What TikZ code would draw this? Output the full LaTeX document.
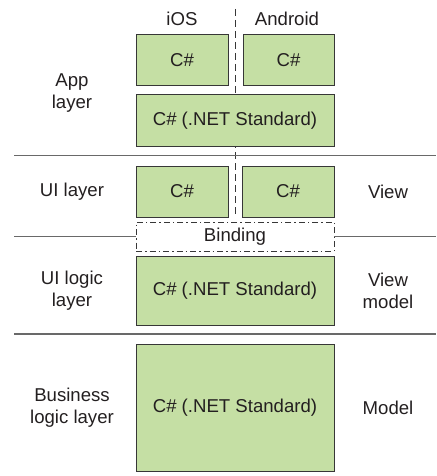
\documentclass[tikz,border=0pt]{standalone}
\usepackage{fontspec}
\setmainfont{Liberation Sans}
\definecolor{boxfill}{RGB}{197,223,164}
\definecolor{boxline}{RGB}{55,55,55}
\definecolor{txt}{RGB}{35,31,32}
\definecolor{sep}{RGB}{105,105,105}
\begin{document}
\begin{tikzpicture}[x=1pt,y=-1pt,
  every node/.style={font=\fontsize{18.6}{22}\selectfont, text=txt, inner sep=0pt, align=center},
  cbox/.style={draw=boxline, fill=boxfill, line width=1pt, minimum height=51pt},
  narrow/.style={cbox, minimum width=92pt},
  wide/.style={cbox, minimum width=198pt},
  bindbox/.style={draw=boxline, fill=white, line width=0.9pt, minimum width=198pt, minimum height=29pt,
    dash pattern=on 6pt off 3pt on 1.5pt off 3pt},
  sepline/.style={draw=sep, line width=1.1pt},
  platline/.style={draw=boxline, line width=1pt, dash pattern=on 7pt off 4pt}]
\useasboundingbox (0,0) rectangle (436,476);
% platform labels
\node (ios) at (182,19) {iOS};
\node (android) at (287,19) {Android};
\coordinate (vtop) at (235.5,9);
\coordinate (vbot) at (235.5,217);
\draw[platline] (vtop) -- (vbot);
% separators
\coordinate (l1a) at (14,155.5); \coordinate (l1b) at (436,155.5);
\coordinate (l2a) at (14,236.5); \coordinate (l2b) at (436,236.5);
\coordinate (l3a) at (14,334);   \coordinate (l3b) at (436,334);
\draw[sepline] (l1a) -- (l1b);
\draw[sepline] (l3a) -- (l3b);
% boxes
\node[narrow] (iosapp) at (182,60.5) {C\#};
\node[narrow, minimum width=91pt] (andapp) at (288.5,60.5) {C\#};
\node[wide] (shared) at (235,120.5) {C\# (.NET Standard)};
\node[narrow] (iosui) at (182,191.5) {C\#};
\node[narrow] (andui) at (288,191.5) {C\#};
\node[bindbox] (binding) at (235,236.5) {Binding};
\draw[sepline] (l2a) -- (binding.west);
\draw[sepline] (binding.east) -- (l2b);
\node[wide, minimum height=69pt] (uilogic) at (235,290.5) {C\# (.NET Standard)};
\node[wide, minimum height=127pt] (business) at (235,407.5) {C\# (.NET Standard)};
% left labels
\node (applayer) at (72,93) {App\\layer};
\node (uilayer) at (72,191.5) {UI layer};
\node (uilogiclayer) at (72,290.5) {UI logic\\layer};
\node (buslayer) at (72,407.5) {Business\\logic layer};
% right labels
\node (view) at (388,191.5) {View};
\node (viewmodel) at (388,290.5) {View\\model};
\node (model) at (388,407.5) {Model};
\end{tikzpicture}
\end{document}
